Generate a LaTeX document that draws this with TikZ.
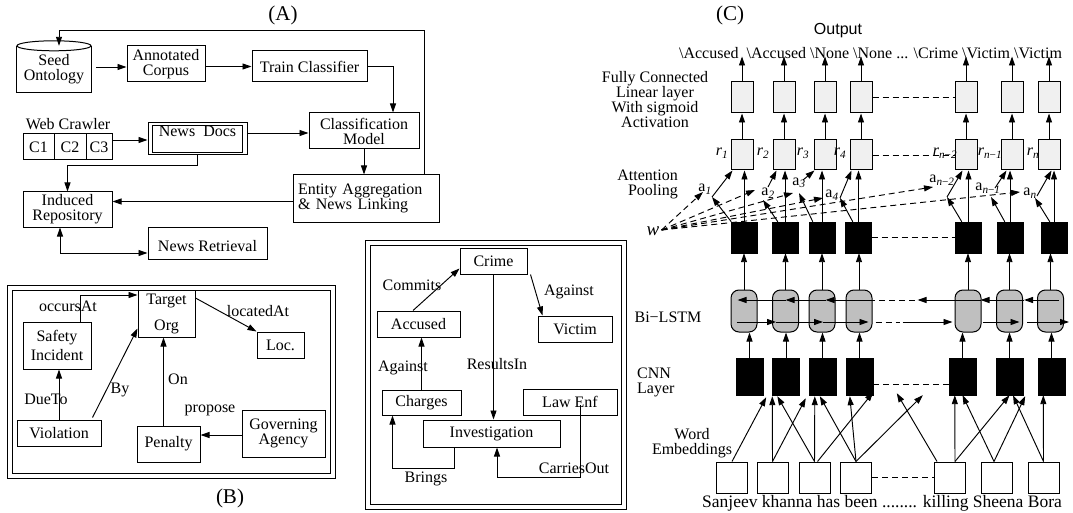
\documentclass[tikz,border=0pt]{standalone}
\usepackage{fontspec}
\setmainfont{Liberation Serif}
\newfontfamily\sansf{Liberation Sans}
\usetikzlibrary{arrows.meta,calc}
\newcommand\fs{\fontsize{16}{15}\selectfont}
\newcommand\ft{\fontsize{21}{24}\selectfont}
\begin{document}
\begin{tikzpicture}[x=1pt,y=-1pt,
  every node/.style={font=\fs},
  box/.style={draw, rectangle, inner sep=1pt, align=center, line width=1pt},
  lbl/.style={inner sep=0pt, align=center},
  arr/.style={-{Triangle[length=9pt,width=6pt]}, line width=0.95pt},
  dbl/.style={{Triangle[length=9pt,width=6pt]}-{Triangle[length=9pt,width=6pt]}, line width=0.95pt},
  ln/.style={line width=1pt},
  dsh/.style={line width=0.95pt, dash pattern=on 6pt off 4pt},
  darr/.style={dsh, -{Triangle[length=9pt,width=6pt]}},
  fcbox/.style={draw, fill=gray!12, minimum width=22pt, minimum height=30pt, inner sep=0pt, line width=1pt},
  blk/.style={draw, fill=black, minimum width=26pt, minimum height=31pt, inner sep=0pt},
  lstm/.style={draw, fill=gray!50, rounded corners=8pt, minimum width=26pt, minimum height=42pt, inner sep=0pt, line width=1pt},
  cnn/.style={draw, fill=black, minimum width=27pt, minimum height=37pt, inner sep=0pt},
  emb/.style={draw, fill=white, minimum width=31pt, minimum height=31pt, inner sep=0pt, line width=1pt},
]
\useasboundingbox (0,0) rectangle (1073,513);

% ---------------- (A) ----------------
\node[lbl, font=\ft] (tA) at (283,15) {(A)};
\node[lbl, minimum width=74pt, minimum height=46pt] (seed) at (54,69) {Seed\\Ontology};
\draw[ln] (seed.north west) -- (seed.south west) -- (seed.south east) -- (seed.north east);
\draw[ln] (seed.north) ellipse [x radius=37pt, y radius=5pt];
\node[box, minimum width=78pt, minimum height=36pt] (corpus) at (166,64) {Annotated\\Corpus};
\node[box, minimum width=115pt, minimum height=31pt] (train) at (309.5,66.5) {Train Classifier};
\node[box, minimum width=110pt, minimum height=36pt] (classif) at (364,131) {Classification\\Model};
\node[lbl] (webc) at (68,124) {Web Crawler};
\node[box, minimum width=31pt, minimum height=26pt] (c1box) at (38.5,147) {C1};
\node[box, minimum width=32pt, minimum height=26pt] (c2box) at (70,147) {C2};
\node[box, minimum width=26pt, minimum height=26pt] (c3box) at (99,147) {C3};
\node[box, minimum width=99pt, minimum height=32pt, text height=11pt, text depth=16pt] (news) at (197.5,139) {News\ \ Docs};
\draw[ln] ($(news.north west)+(5,3)$) rectangle ($(news.south east)+(-5,-3)$);
\node[box, align=left, text width=136pt, inner sep=5pt, minimum height=47pt] (entity) at (366,198.5) {Entity Aggregation\\\& News Linking};
\node[box, minimum width=89pt, minimum height=35pt] (induced) at (67.5,209.5) {Induced\\Repository};
\node[box, minimum width=119pt, minimum height=32pt, text height=21pt, text depth=4pt] (retr) at (207.5,243) {News Retrieval};

\coordinate (fbR) at (424,30);
\coordinate (fbL) at (59,30);
\draw[arr] (entity.north -| fbR) -- (fbR) -- (fbL) -- (fbL |- seed.north);
\draw[arr] ($(seed.east)+(5,-2)$) -- ($(corpus.west)+(0,3)$);
\draw[arr] ($(corpus.east)+(0,2.5)$) -- (train.west);
\draw[arr] (train.east) -| ($(classif.north)+(29,0)$);
\draw[arr] ($(c3box.east)+(0,-7)$) -- ($(news.west)+(0,1)$);
\draw[arr] ($(news.east)+(0,-6)$) -- ($(classif.west)+(0,2)$);
\draw[arr] (news.south) -- ++(0,10) -| (induced.north);
\draw[arr] (classif.south) -- (classif.south |- entity.north);
\draw[arr] ($(entity.west)+(0,3)$) -- ($(induced.east)+(0,-8)$);
\draw[dbl] ($(induced.south)+(-7.5,0)$) |- ($(retr.west)+(0,10)$);

% ---------------- (B) ----------------
\draw[ln] (7,285) rectangle (335,478);
\draw[ln] (12,290) rectangle (330,473);
\node[lbl, font=\ft] (tB) at (230,498) {(B)};
\node[box, minimum width=57pt, minimum height=47pt] (target) at (166.5,313.5) {Target\\[11pt]Org};
\node[box, minimum width=68pt, minimum height=47pt] (safety) at (57,345.5) {Safety\\[4pt]Incident};
\node[box, minimum width=47pt, minimum height=26pt] (loc) at (280.5,345) {Loc.};
\node[box, minimum width=84pt, minimum height=26pt] (viol) at (59,433) {Violation};
\node[box, minimum width=63pt, minimum height=36pt] (pen) at (168.5,444) {Penalty};
\node[box, minimum width=83pt, minimum height=47pt] (gov) at (283.5,433.5) {Governing\\Agency};
\node[lbl] (lOcc) at (68,306) {occursAt};
\node[lbl] (lLoc) at (258,311) {locatedAt};
\node[lbl] (lDue) at (46,399) {DueTo};
\node[lbl] (lBy) at (120,390) {By};
\node[lbl] (lOn) at (178,379) {On};
\node[lbl] (lProp) at (210,410) {propose};
\coordinate (onS) at ($(pen.north)+(-5,0)$);
\draw[arr] ($(safety.north)+(23,0)$) |- ($(target.west)+(0,-18.5)$);
\draw[arr] ($(target.east)+(0,-15.5)$) -- (loc.north west);
\draw[arr] (viol.north) -- (viol.north |- safety.south);
\draw[arr] ($(viol.north east)+(-9,-2)$) -- ($(target.south west)+(0,-9)$);
\draw[arr] (onS) -- (onS |- target.south);
\draw[arr] ($(gov.west)+(0,1.5)$) -- ($(pen.east)+(0,-9)$);

% ---------------- Crime ontology ----------------
\draw[ln] (365,240) rectangle (626,509);
\draw[ln] (370,245) rectangle (621,504);
\node[box, minimum width=67pt, minimum height=26pt] (crime) at (493.5,261) {Crime};
\node[box, minimum width=83pt, minimum height=26pt] (acc) at (418.5,324) {Accused};
\node[box, minimum width=74pt, minimum height=26pt] (vic) at (575,329) {Victim};
\node[box, minimum width=79pt, minimum height=25pt] (chg) at (421.5,402.5) {Charges};
\node[box, minimum width=94pt, minimum height=26pt] (law) at (570,402) {Law Enf};
\node[box, minimum width=137pt, minimum height=27pt] (inv) at (491.5,433.5) {Investigation};
\node[lbl] (lCom) at (412,285) {Commits};
\node[lbl] (lAg1) at (569,292) {Against};
\node[lbl] (lRes) at (497,364) {ResultsIn};
\node[lbl] (lAg2) at (403,368) {Against};
\node[lbl] (lBr) at (426,479) {Brings};
\node[lbl] (lCar) at (574,468) {CarriesOut};
\draw[arr] ($(acc.north)+(-5.5,0)$) -- ($(crime.south west)+(0,-6)$);
\draw[arr] ($(crime.south east)+(3,0)$) -- ($(vic.north west)+(5,0)$);
\draw[arr] (crime.south) -- (crime.south |- inv.north);
\draw[arr] (chg.north) -- (chg.north |- acc.south);
\draw[arr] ($(inv.south west)+(32,0)$) -- ++(0,21) -| ($(chg.south west)+(11,0)$);
\draw[arr] ($(law.center)+(10,3)$) -- ++(0,72) -| ($(inv.south)+(5.5,0)$);

% ---------------- (C) ----------------
\node[lbl, font=\ft] (tC) at (730,15) {(C)};
\node[lbl, font=\sansf\fontsize{16}{18}\selectfont] (outp) at (838,31) {Output};
\node[lbl] (outl) at (870.5,53) {\textbackslash Accused\ \ \textbackslash Accused \textbackslash None \textbackslash None ... \textbackslash Crime \textbackslash Victim \textbackslash Victim};

\foreach \i/\x in {1/742,2/784,3/825,4/861,5/966,6/1012,7/1049} {
  \node[fcbox, minimum height=31pt] (fc\i) at (\x,97.5) {};
  \node[fcbox] (r\i) at (\x,155) {};
}
\foreach \i/\x in {1/744.5,2/785,3/822,4/858.5,5/968.5,6/1010,7/1054}
  \node[blk] (b\i) at (\x,237.5) {};
\foreach \i/\x in {1/744,2/785.5,3/822,4/859,5/968,6/1009.5,7/1050.5}
  \node[lstm] (l\i) at (\x,311) {};
\foreach \i/\x in {1/749.5,2/786,3/822.5,4/859.5,5/962.5,6/1009.5,7/1051.5}
  \node[cnn] (c\i) at (\x,376.5) {};
\foreach \i/\x in {1/732,2/772.5,3/814.5,4/856,5/950,6/996.5,7/1043.5}
  \node[emb] (e\i) at (\x,477.5) {};

\foreach \i in {1,...,7} {
  \draw[arr] (fc\i.north) -- ++(0,-25);
  \draw[arr] (r\i.north) -- (fc\i.south);
  \draw[arr] (b\i.north) -- (b\i.north |- r\i.south);
  \draw[arr] (l\i.north) -- (l\i.north |- b\i.south);
  \draw[arr] (c\i.north) -- (c\i.north |- l\i.south);
}
\draw[dsh] (fc4.east) -- (fc5.west);
\draw[dsh] (r4.east) -- (r5.west);
\draw[dsh] (b4.east) -- (b5.west);
\draw[dsh] ($(c4.east)+(0,7.5)$) -- ($(c5.west)+(0,7.5)$);
\draw[dsh] (e4.east) -- (e5.west);

% r labels
\node[lbl] (rl1) at (722,153) {\textit{r}\textsubscript{\textit{1}}};
\node[lbl] (rl2) at (763,153) {\textit{r}\textsubscript{\textit{2}}};
\node[lbl] (rl3) at (803,153) {\textit{r}\textsubscript{\textit{3}}};
\node[lbl] (rl4) at (840,153) {\textit{r}\textsubscript{\textit{4}}};
\node[lbl] (rl5) at (945,153) {\textit{r}\textsubscript{\textit{n}−\textit{2}}};
\node[lbl] (rl6) at (990,153) {\textit{r}\textsubscript{\textit{n}−\textit{1}}};
\node[lbl] (rl7) at (1033,153) {\textit{r}\textsubscript{\textit{n}}};

% attention
\coordinate (p1) at (712,197);
\coordinate (p2) at (763,200);
\coordinate (q2) at (768,187);
\coordinate (p3) at (799,193);
\coordinate (q3) at (803,180);
\coordinate (p4) at (840,198);
\coordinate (p5) at (947,197);
\coordinate (p6) at (991,197);
\coordinate (q6) at (995,188);
\coordinate (p7) at (1035,198);
\coordinate (q7) at (1037,196);
\draw[arr] (b1.north west) -- (p1);
\draw[arr] (p1) -- ($(r1.south west)+(2,0)$);
\draw[arr] ($(b2.north west)+(6,0)$) -- (p2);
\draw[arr] (q2) -- ($(r2.south west)+(4,0)$);
\draw[arr] ($(b3.north west)+(4,0)$) -- (p3);
\draw[arr] (q3) -- ($(r3.south west)+(1,0)$);
\draw[arr] ($(b4.north west)+(7.5,0)$) -- (p4);
\draw[arr] (p4) -- ($(r4.south west)+(2,0)$);
\draw[arr] ($(b5.north west)+(6.5,0)$) -- (p5);
\draw[arr] (p5) -- ($(r5.south west)+(8,0)$);
\draw[arr] ($(b6.north west)+(8,0)$) -- (p6);
\draw[arr] (q6) -- ($(r6.south west)+(6,0)$);
\draw[arr] ($(b7.north west)+(9,0)$) -- (p7);
\draw[arr] (q7) -- ($(r7.south west)+(14,0)$);

\node[lbl] (al1) at (705,189) {a\textsubscript{\textit{1}}};
\node[lbl] (al2) at (768,193) {a\textsubscript{\textit{2}}};
\node[lbl] (al3) at (799,183) {a\textsubscript{\textit{3}}};
\node[lbl] (al4) at (832,195) {a\textsubscript{\textit{4}}};
\node[lbl] (al5) at (942,180) {a\textsubscript{\textit{n}−\textit{2}}};
\node[lbl] (al6) at (988,188) {a\textsubscript{\textit{n}−\textit{1}}};
\node[lbl] (al7) at (1030,193) {a\textsubscript{\textit{n}}};

\node[lbl, font=\itshape\fontsize{19}{19}\selectfont] (w) at (653,231) {w};
\coordinate (t1) at (703,192);
\coordinate (t2) at (755,190);
\coordinate (t3) at (793,193);
\coordinate (t4) at (823,198);
\coordinate (t5) at (933,187);
\coordinate (t6) at (1020,192);
\foreach \t in {t1,t2,t3,t4,t5,t6}
  \draw[darr] ($(w.east)+(2,-1)$) -- (\t);

% Bi-LSTM horizontal arrows
\draw[arr] ($(l7.east)+(-5,-11)$) -- ($(l6.east)+(1,-11)$);
\draw[arr] ($(l6.east)+(1,-11)$) -- ($(l5.east)+(-1,-11)$);
\draw[arr] ($(l5.east)+(-1,-11)$) -- ($(l5.west)+(-37,-11)$);
\draw[dsh] ($(l5.west)+(-40,-11)$) -- ($(l4.east)+(0,-11)$);
\draw[arr] ($(l4.east)+(0,-11)$) -- ($(l3.east)+(-10,-11)$);
\draw[arr] ($(l3.east)+(-10,-11)$) -- ($(l2.center)+(0,-11)$);
\draw[arr] ($(l2.center)+(0,-11)$) -- ($(l1.west)+(7,-11)$);
\draw[arr] ($(l1.west)+(6,11)$) -- ($(l2.west)+(4,11)$);
\draw[arr] ($(l2.west)+(4,11)$) -- ($(l3.center)+(1,11)$);
\draw[arr] ($(l3.center)+(1,11)$) -- ($(l4.east)+(-4,11)$);
\draw[dsh] ($(l4.east)+(3,11)$) -- ($(l5.west)+(-55,11)$);
\draw[arr] ($(l5.west)+(-52,11)$) -- ($(l5.west)+(-2,11)$);
\draw[arr] ($(l5.east)+(1,11)$) -- ($(l6.center)+(10,11)$);
\draw[arr] ($(l7.west)+(-10,11)$) -- ($(l7.east)+(5,11)$);

% embeddings to CNN
\draw[arr] (e1.north) -- ($(c1.south east)+(3,2)$);
\draw[arr] (e2.north) -- ($(c2.south west)+(0,1)$);
\draw[arr] (e3.north) -- ($(c2.south west)+(5,1)$);
\draw[arr] (e2.north) -- ($(c3.south west)+(-3,3)$);
\draw[arr] (e3.north) -- ($(c3.south west)+(6,1)$);
\draw[arr] (e4.north) -- ($(c3.south west)+(11,1)$);
\draw[arr] ($(e3.north)+(3,0)$) -- ($(c4.south east)+(0,-3)$);
\draw[arr] (e4.north) -- ($(c4.south west)+(4,1)$);
\draw[arr] (e4.north) -- ($(c5.south west)+(-26,0)$);
\draw[arr] ($(e5.north west)+(3,0)$) -- ($(c5.south west)+(-52,-2)$);
\draw[arr] ($(e5.north)+(5,0)$) -- ($(c5.south west)+(6,0)$);
\draw[arr] ($(e5.north)+(5,0)$) -- (c6.south);
\draw[arr] ($(e6.north)+(-2.5,0)$) -- (c5.south);
\draw[arr] ($(e6.north)+(-2.5,0)$) -- ($(c6.south east)+(2,1)$);
\draw[arr] (e7.north) -- ($(c6.south)+(3.5,0)$);
\draw[arr] (e7.north) -- ($(c7.south west)+(5.5,0)$);

% layer labels
\node[lbl] (lFC) at (655,99.5) {Fully Connected\\Linear layer\\With sigmoid\\Activation};
\node[lbl, align=right, anchor=east] (lAtt) at (678,184.5) {Attention\\Pooling};
\node[lbl] (lBi) at (668,317) {Bi−LSTM};
\node[lbl, align=left, anchor=west] (lCNN) at (637,382.5) {CNN\\Layer};
\node[lbl] (lWE) at (692,443.5) {Word\\Embeddings};
\node[lbl, font=\fontsize{17.5}{18}\selectfont] (sent) at (882,503.5) {Sanjeev khanna has been ........ killing Sheena Bora};
\end{tikzpicture}
\end{document}
